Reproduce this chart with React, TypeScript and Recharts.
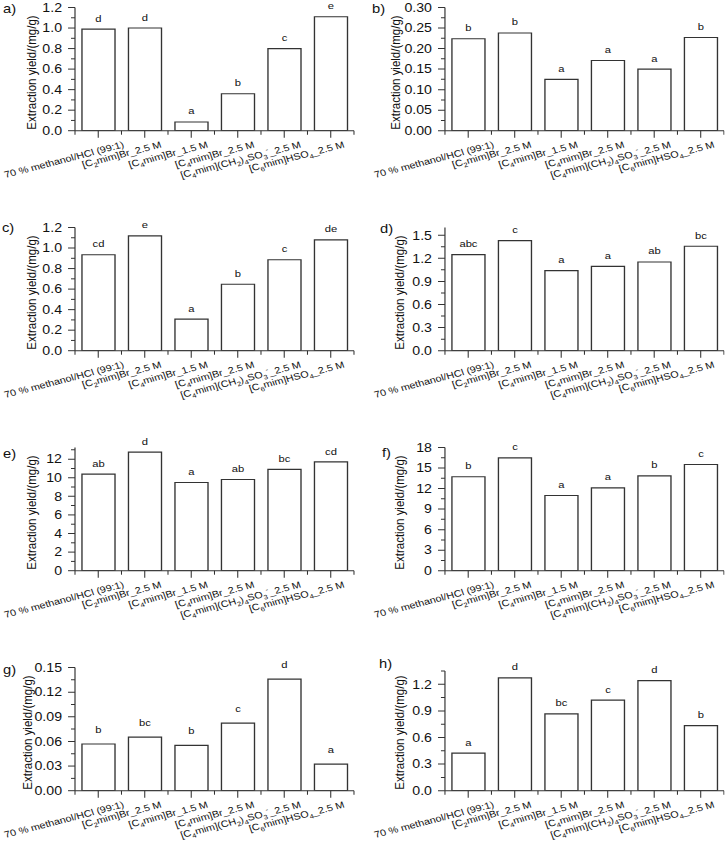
import React from 'react';
import { BarChart, Bar, XAxis, YAxis, LabelList } from 'recharts';

// ---------------- data ----------------
const categories = [
  '70 % methanol/HCl (99:1)',
  '[C~2~mim]Br_2.5 M',
  '[C~4~mim]Br_1.5 M',
  '[C~4~mim]Br_2.5 M',
  '[C~4~mim](CH~2~)~4~SO~3~^-^_2.5 M',
  '[C~6~mim]HSO~4~_2.5 M',
];

const yieldA = [0.99, 1.0, 0.085, 0.36, 0.8, 1.11];
const lettersA = ['d', 'd', 'a', 'b', 'c', 'e'];
const yieldB = [0.224, 0.238, 0.125, 0.171, 0.15, 0.227];
const lettersB = ['b', 'b', 'a', 'a', 'a', 'b'];
const yieldC = [0.935, 1.118, 0.307, 0.647, 0.886, 1.079];
const lettersC = ['cd', 'e', 'a', 'b', 'c', 'de'];
const yieldD = [1.248, 1.43, 1.039, 1.096, 1.152, 1.357];
const lettersD = ['abc', 'c', 'a', 'a', 'ab', 'bc'];
const yieldE = [10.38, 12.76, 9.49, 9.81, 10.89, 11.71];
const lettersE = ['ab', 'd', 'a', 'ab', 'bc', 'cd'];
const yieldF = [13.72, 16.49, 10.99, 12.11, 13.86, 15.52];
const lettersF = ['b', 'c', 'a', 'a', 'b', 'c'];
const yieldG = [0.0568, 0.0653, 0.0551, 0.0823, 0.1358, 0.0324];
const lettersG = ['b', 'bc', 'b', 'c', 'd', 'a'];
const yieldH = [0.424, 1.272, 0.867, 1.022, 1.241, 0.734];
const lettersH = ['a', 'd', 'bc', 'c', 'd', 'b'];

const majorA = [0, 0.2, 0.4, 0.6, 0.8, 1.0, 1.2];
const minorA = [0.1, 0.3, 0.5, 0.7, 0.9, 1.1];
const majorB = [0, 0.05, 0.1, 0.15, 0.2, 0.25, 0.3];
const minorB = [0.025, 0.075, 0.125, 0.175, 0.225, 0.275];
const majorC = [0, 0.2, 0.4, 0.6, 0.8, 1.0, 1.2];
const minorC = [0.1, 0.3, 0.5, 0.7, 0.9, 1.1];
const majorD = [0, 0.3, 0.6, 0.9, 1.2, 1.5];
const minorD = [0.15, 0.45, 0.75, 1.05, 1.35];
const majorE = [0, 2, 4, 6, 8, 10, 12];
const minorE = [1, 3, 5, 7, 9, 11, 13];
const majorF = [0, 3, 6, 9, 12, 15, 18];
const minorF = [1.5, 4.5, 7.5, 10.5, 13.5, 16.5];
const majorG = [0, 0.03, 0.06, 0.09, 0.12, 0.15];
const minorG = [0.015, 0.045, 0.075, 0.105, 0.135];
const majorH = [0, 0.3, 0.6, 0.9, 1.2];
const minorH = [0.15, 0.45, 0.75, 1.05, 1.35];

const yTitle = 'Extraction yield/(mg/g)';

// ---------------- layout ----------------
const S = 1.18; // horizontal stretch of the whole figure
const ROW_H = 220;
const PAD = 12; // extra room above each plot for letters
const CHART_H = ROW_H + PAD;
const PLOT_W = 279 / S;
const PLOT_H = 123.2;
const TOP = 7.5 + PAD;
const XAXIS_H = CHART_H - TOP - PLOT_H;
const FONT = '"Liberation Sans", Arial, Helvetica, sans-serif';
const INK = '#111';
const LINE = '#333';
const XLAB_FS = 9.2;
const XLAB_ANGLE = -17;
const XLAB_NUDGE = [9, 0, 0, 0, 0, -3]; // image px, per label position

const panels = [
  { tag: 'a)', values: yieldA, letters: lettersA, major: majorA, minor: minorA, domain: [0, 1.2], dec: 1, col: 0, row: 0, top: TOP, lo: 7.5, ylabX: 26.9, tagX: 2.5, tagY: 13 },
  { tag: 'b)', values: yieldB, letters: lettersB, major: majorB, minor: minorB, domain: [0, 0.3], dec: 2, col: 1, row: 0, top: TOP, lo: 7.5, ylabX: 335, tagX: 315.3, tagY: 13 },
  { tag: 'c)', values: yieldC, letters: lettersC, major: majorC, minor: minorC, domain: [0, 1.2], dec: 1, col: 0, row: 1, top: TOP, lo: 7.5, ylabX: 26.9, tagX: 1.7, tagY: 232 },
  { tag: 'd)', values: yieldD, letters: lettersD, major: majorD, minor: minorD, domain: [0, 1.6], dec: 1, col: 1, row: 1, top: TOP, lo: 7.5, ylabX: 338.7, tagX: 322, tagY: 233 },
  { tag: 'e)', values: yieldE, letters: lettersE, major: majorE, minor: minorE, domain: [0, 13.25], dec: 0, col: 0, row: 2, top: TOP, lo: 7, ylabX: 26.9, tagX: 2.5, tagY: 458.5 },
  { tag: 'f)', values: yieldF, letters: lettersF, major: majorF, minor: minorF, domain: [0, 18], dec: 0, col: 1, row: 2, top: TOP, lo: 7.5, ylabX: 338.7, tagX: 323.7, tagY: 457 },
  { tag: 'g)', values: yieldG, letters: lettersG, major: majorG, minor: minorG, domain: [0, 0.15], dec: 2, col: 0, row: 3, top: TOP, lo: 11, ylabX: 23.1, tagX: 2.5, tagY: 674 },
  { tag: 'h)', values: yieldH, letters: lettersH, major: majorH, minor: minorH, domain: [0, 1.35], dec: 1, col: 1, row: 3, top: TOP + 3.5, lo: 7.5, ylabX: 338.7, tagX: 321.2, tagY: 668 },
];

// ---------------- helpers ----------------
function rich(s: string, fs: number) {
  const parts = s.split(/(~[^~]+~|\^[^^]+\^)/).filter((p) => p.length > 0);
  let shift = 0;
  return parts.map((p, i) => {
    let target = 0;
    let text = p;
    let size = fs;
    if (p.startsWith('~')) {
      target = fs * 0.3;
      text = p.slice(1, -1);
      size = fs * 0.7;
    } else if (p.startsWith('^')) {
      target = -fs * 0.45;
      text = p.slice(1, -1);
      size = fs * 0.7;
    }
    const dy = target - shift;
    shift = target;
    return (
      <tspan key={i} dy={dy} fontSize={size}>
        {text}
      </tspan>
    );
  });
}

const XTick = (props: any) => {
  const { x, y, payload, index, visibleTicksCount } = props;
  const n = visibleTicksCount || categories.length;
  const fallback = PLOT_W / n / 2;
  const half =
    payload && typeof payload.offset === 'number' && payload.offset > 1 && payload.offset < fallback * 1.5
      ? payload.offset
      : fallback;
  const i = typeof index === 'number' ? index : 0;
  const dx = (17.5 + (XLAB_NUDGE[i] || 0)) / S;
  return (
    <g>
      <line x1={x} x2={x} y1={y} y2={y + 7} stroke={LINE} strokeWidth={0.9} />
      <line x1={x - half} x2={x - half} y1={y} y2={y + 4} stroke={LINE} strokeWidth={0.9} />
      {i === n - 1 && <line x1={x + half} x2={x + half} y1={y} y2={y + 4} stroke={LINE} strokeWidth={0.9} />}
      <text
        transform={`translate(${x + dx},${y + 16.5}) rotate(${XLAB_ANGLE})`}
        textAnchor="end"
        fontSize={XLAB_FS}
        fontFamily={FONT}
        fill={INK}
      >
        {rich(String(payload.value), XLAB_FS)}
      </text>
    </g>
  );
};

const makeYTick = (major: number[], dec: number) => (props: any) => {
  const { x, y, payload } = props;
  const v = Number(payload.value);
  const isMajor = major.some((m) => Math.abs(m - v) < 1e-9);
  const len = isMajor ? 5.9 : 3.4;
  return (
    <g>
      <line x1={x - len} x2={x} y1={y} y2={y} stroke={LINE} strokeWidth={1} />
      {isMajor && (
        <text x={x - 11} y={y} dy="0.36em" textAnchor="end" fontSize={12} fontFamily={FONT} fill={INK}>
          {v.toFixed(dec)}
        </text>
      )}
    </g>
  );
};

function Panel({ p }: { p: any }) {
  const data = categories.map((c, i) => ({ cat: c, v: p.values[i], letter: p.letters[i] }));
  const ticks = [...p.major, ...p.minor].sort((a: number, b: number) => a - b);
  const yw = p.col === 0 ? 75 / S : (444.7 - 362) / S;
  const w = p.col === 0 ? 362 / S : 363 / S;
  const mr = w - yw - PLOT_W;
  return (
    <div style={{ position: 'absolute', left: p.col === 0 ? 0 : 362 / S, top: p.row * ROW_H - PAD }}>
      <BarChart
        width={w}
        height={CHART_H}
        data={data}
        margin={{ top: p.top, right: mr, bottom: 0, left: 0 }}
        barCategoryGap="15%"
      >
        <XAxis
          dataKey="cat"
          interval={0}
          tickLine={false}
          tickSize={0}
          tickMargin={0}
          height={XAXIS_H}
          axisLine={{ stroke: LINE, strokeWidth: 1 }}
          tick={XTick}
        />
        <YAxis
          type="number"
          domain={p.domain}
          ticks={ticks}
          interval={0}
          width={yw}
          tickLine={false}
          tickSize={0}
          tickMargin={0}
          allowDataOverflow
          axisLine={{ stroke: LINE, strokeWidth: 1 }}
          tick={makeYTick(p.major, p.dec)}
        />
        <Bar dataKey="v" fill="#ffffff" stroke={LINE} strokeWidth={1.15} isAnimationActive={false}>
          <LabelList dataKey="letter" position="top" offset={p.lo} fontSize={9.5} fontFamily={FONT} fill={INK} />
        </Bar>
      </BarChart>
    </div>
  );
}

export default function App() {
  return (
    <div
      style={{
        position: 'absolute',
        left: 0,
        top: 0,
        width: 725,
        height: 846,
        overflow: 'hidden',
        background: '#fff',
      }}
    >
      <div
        style={{
          position: 'relative',
          width: 725 / S,
          height: 846,
          transform: `scale(${S}, 1)`,
          transformOrigin: '0 0',
        }}
      >
        {panels.map((p) => (
          <Panel key={p.tag} p={p} />
        ))}
        <svg
          width={725 / S}
          height={846}
          style={{ position: 'absolute', left: 0, top: 0, pointerEvents: 'none' }}
        >
          {panels.map((p) => (
            <g key={p.tag}>
              <text x={p.tagX} y={p.tagY} fontSize={12.5} fontFamily={FONT} fill={INK}>
                {p.tag}
              </text>
              <text
                transform={`translate(${p.ylabX},${p.row * ROW_H + 72.5}) rotate(-90)`}
                textAnchor="middle"
                dy="0.35em"
                fontSize={11.5}
                fontFamily={FONT}
                fill={INK}
              >
                {yTitle}
              </text>
            </g>
          ))}
        </svg>
      </div>
    </div>
  );
}
